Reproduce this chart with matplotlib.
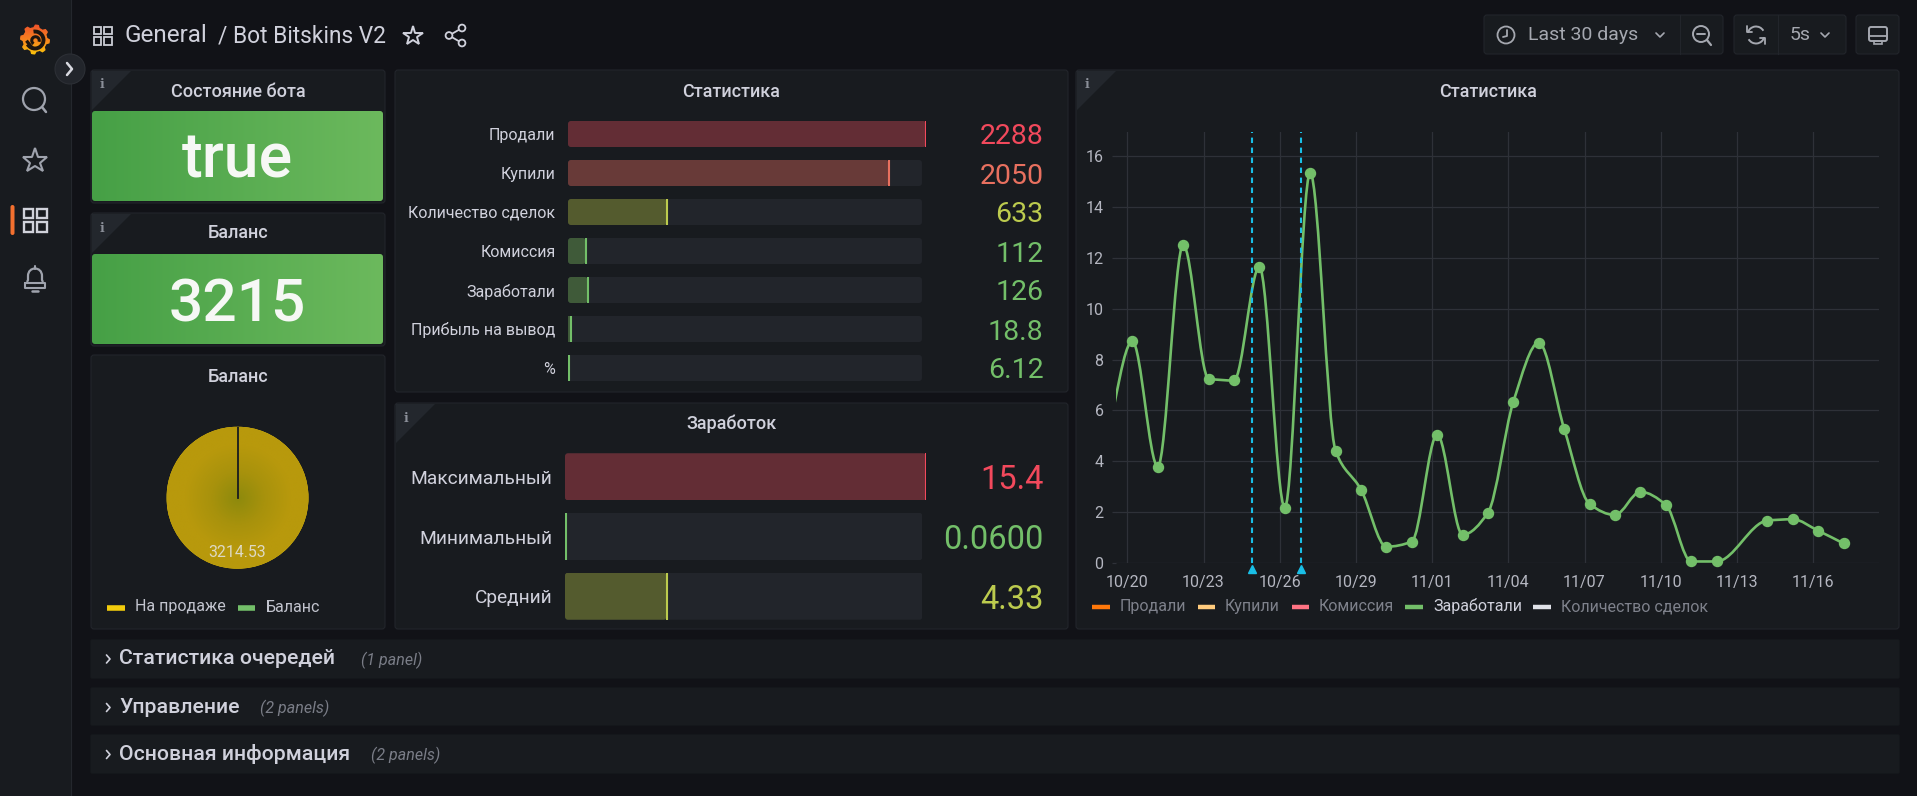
# -*- coding: utf-8 -*-
import numpy as np
import matplotlib
matplotlib.use('Agg')
import matplotlib.pyplot as plt
from matplotlib.patches import Rectangle, FancyBboxPatch, Circle, Polygon, PathPatch, Arc
from matplotlib.path import Path
from matplotlib.transforms import IdentityTransform

W, H = 1917, 796
plt.rcParams['font.family'] = ['Roboto', 'DejaVu Sans']

# data
stat_labels = ['Продали', 'Купили', 'Количество сделок', 'Комиссия', 'Заработали', 'Прибыль на вывод', '%']
stat_values = [2288, 2050, 633, 112, 126, 18.8, 6.12]
stat_text = ['2288', '2050', '633', '112', '126', '18.8', '6.12']
stat_colors = ['#f2495c', '#e8705f', '#bccb4e', '#73bf69', '#73bf69', '#73bf69', '#73bf69']
stat_fills = ['#632d35', '#683a38', '#545b2e', '#3f5a39', '#3f5a39', '#3f5a39', '#3f5a39']

earn_labels = ['Максимальный', 'Минимальный', 'Средний']
earn_values = [15.4, 0.06, 4.33]
earn_text = ['15.4', '0.0600', '4.33']
earn_colors = ['#f2495c', '#73bf69', '#bccb4e']
earn_fills = ['#632d35', '#3f5a39', '#545b2e']

pie_labels = ['На продаже', 'Баланс']
pie_values = [3214.53, 0.0]
pie_colors = ['#f2cc0c', '#73bf69']

# days after 10/20, there is no point for 11/13
days = [-0.8, 0.2, 1.2, 2.2, 3.2, 4.2, 5.2, 6.2, 7.2, 8.2, 9.2, 10.2, 11.2, 12.2, 13.2,
        14.2, 15.2, 16.2, 17.2, 18.2, 19.2, 20.2, 21.2, 22.2, 23.2, 25.2, 26.2, 27.2, 28.2]
earned = [4.9, 8.72, 3.79, 12.52, 7.25, 7.18, 11.65, 2.18, 15.35, 4.41, 2.89, 0.64, 0.84, 5.05, 1.11,
          1.98, 6.35, 8.67, 5.28, 2.32, 1.89, 2.80, 2.29, 0.06, 0.06, 1.67, 1.72, 1.27, 0.77]
annot_days = [4.91, 6.83]
x_ticks = [0, 3, 6, 9, 12, 15, 18, 21, 24, 27]
x_labels = ['10/20', '10/23', '10/26', '10/29', '11/01', '11/04', '11/07', '11/10', '11/13', '11/16']
y_ticks = [0, 2, 4, 6, 8, 10, 12, 14, 16]

ts_legend = ['Продали', 'Купили', 'Комиссия', 'Заработали', 'Количество сделок']
ts_legend_colors = ['#ff780a', '#ffcb7d', '#ff7383', '#73bf69', '#e0e2e8']

rows = ['Статистика очередей', 'Управление', 'Основная информация']
rows_sub = ['(1 panel)', '(2 panels)', '(2 panels)']

PAGE = '#111217'
PANEL = '#181b1f'
BORDER = '#22252b'
TRACK = '#22252b'
TEXT = '#d0d1dc'
DIM = '#7e818b'
ICON = '#9fa3ad'

fig = plt.figure(figsize=(W / 100, H / 100), dpi=100, facecolor=PAGE)

ui = fig.add_axes([0, 0, 1, 1], zorder=0)
ui.set_xlim(0, W)
ui.set_ylim(H, 0)
ui.axis('off')


def px_axes(x0, y0, x1, y1, z=2):
    ax = fig.add_axes([x0 / W, 1 - y1 / H, (x1 - x0) / W, (y1 - y0) / H], zorder=z)
    ax.set_facecolor('none')
    return ax


def rbox(x0, y0, x1, y1, fc=PANEL, ec=BORDER, r=3, lw=0.8):
    p = FancyBboxPatch((x0 + r, y0 + r), x1 - x0 - 2 * r, y1 - y0 - 2 * r,
                       boxstyle='round,pad=%d,rounding_size=%d' % (r, r), fc=fc, ec=ec, lw=lw)
    ui.add_patch(p)
    return p


def info_corner(x, y):
    ui.add_patch(Polygon([(x + 1, y + 1), (x + 40, y + 1), (x + 1, y + 40)], fc='#23272d', ec='none'))
    ui.text(x + 11, y + 15, 'i', color='#8b8f99', fontsize=9, fontweight='bold', family='DejaVu Serif',
            ha='center', va='center')


def line(xs, ys, c=ICON, lw=1.5):
    ui.plot(xs, ys, color=c, lw=lw, solid_capstyle='round', solid_joinstyle='round')


def grid_icon(cx, cy, s, gap, c, lw):
    for dx in (-1, 1):
        for dy in (-1, 1):
            x0 = cx + dx * (gap / 2 + s / 2) - s / 2
            y0 = cy + dy * (gap / 2 + s / 2) - s / 2
            ui.add_patch(Rectangle((x0, y0), s, s, fc='none', ec=c, lw=lw))


def title(x, y, s):
    ui.text(x, y + 1, s, color=TEXT, fontsize=13, fontweight='medium', ha='center', va='center')


# sidebar
ui.add_patch(Rectangle((0, 0), 71, H, fc=PANEL, ec='none'))
ui.plot([71, 71], [0, H], color='#24272d', lw=0.8)

# logo
t = np.linspace(0, 2 * np.pi, 49)[:-1]
rad = np.where(np.arange(48) % 6 < 3, 15, 12.4)
gear = np.c_[35 + rad * np.cos(t), 39.5 + rad * np.sin(t)]
grad = np.linspace(0, 1, 64)[:, None]
logo_cm = matplotlib.colors.LinearSegmentedColormap.from_list('logo', ['#ee4f2c', '#f6821f', '#fbca0a'])
im = ui.imshow(grad, cmap=logo_cm, extent=(18, 52, 56, 23), aspect='auto', zorder=2)
im.set_clip_path(Polygon(gear, transform=ui.transData))
ui.set_xlim(0, W)
ui.set_ylim(H, 0)
ui.add_patch(Arc((35, 40), 17, 17, theta1=260, theta2=150, ec='#1c1510', lw=2.8, zorder=3))
ui.add_patch(Arc((35.5, 40.5), 7.5, 7.5, theta1=120, theta2=20, ec='#1c1510', lw=2.2, zorder=3))
ui.plot([27.5, 31.5], [42, 47], color='#1c1510', lw=2.4, zorder=3)

# sidebar expand button
ui.add_patch(Circle((70, 69), 15, fc='#22252b', ec='#2c2f35', lw=0.8, zorder=3))
ui.plot([67, 72, 67], [63, 69, 75], color='#d8d9e0', lw=1.8, zorder=4, solid_capstyle='round')

# sidebar icons
ui.add_patch(Circle((34, 99), 11, fc='none', ec=ICON, lw=1.6))
line([42, 46], [107, 112], lw=1.8)
ui.plot([35], [161], marker='*', ms=18.5, mfc='none', mec=ICON, mew=1.5)
ui.add_patch(FancyBboxPatch((10.5, 205), 4, 30, boxstyle='round,pad=0,rounding_size=2', fc='#f3702f', ec='none'))
grid_icon(35, 220, 9.5, 4, '#d0d2da', 1.7)
bell = Path([(27, 282), (28, 280), (28, 276), (28, 266), (42, 266), (42, 276), (42, 280), (43, 282)],
            [1, 2, 2, 4, 4, 4, 2, 2])
ui.add_patch(PathPatch(bell, fc='none', ec=ICON, lw=1.6))
line([35, 35], [266, 269])
line([25, 45, 45, 25, 25], [283, 283, 288, 288, 283])
line([32, 38], [291, 291], lw=1.8)

# header
grid_icon(102.5, 35.5, 7.5, 3, '#ccced6', 1.3)
ui.text(124, 36, 'General', color=TEXT, fontsize=17.5, va='center', ha='left')
ui.text(218, 36, '/ Bot Bitskins V2', color=TEXT, fontsize=16.4, va='center', ha='left')
ui.plot([412.5], [35.5], marker='*', ms=14.5, mfc='none', mec=TEXT, mew=1.4)
for (cx, cy) in [(462, 28), (449, 35.5), (462, 43)]:
    ui.add_patch(Circle((cx, cy), 3.4, fc=PAGE, ec=TEXT, lw=1.3, zorder=3))
line([449, 462], [35.5, 28], TEXT, 1.3)
line([449, 462], [35.5, 43], TEXT, 1.3)

# top right buttons
rbox(1484, 15, 1723, 54, fc=PANEL, ec=BORDER)
rbox(1734, 15, 1846, 54, fc=PANEL, ec=BORDER)
rbox(1856, 15, 1899, 54, fc=PANEL, ec=BORDER)
ui.plot([1680, 1680], [15, 54], color=BORDER, lw=0.8)
ui.plot([1778, 1778], [15, 54], color=BORDER, lw=0.8)
ui.add_patch(Circle((1506, 35), 8.5, fc='none', ec='#a5a8b0', lw=1.3))
line([1507, 1507, 1503], [30, 36, 37], '#a5a8b0', 1.3)
ui.text(1528, 35, 'Last 30 days', color='#a5a8b0', fontsize=14, va='center', ha='left')
line([1656, 1660, 1664], [33, 37, 33], '#a5a8b0', 1.2)
ui.add_patch(Circle((1701, 34), 8, fc='none', ec='#a5a8b0', lw=1.4))
line([1697, 1705], [34, 34], '#a5a8b0', 1.4)
line([1707, 1711], [40, 45], '#a5a8b0', 1.6)
ui.add_patch(Arc((1756, 35), 17, 17, theta1=195, theta2=330, ec='#a5a8b0', lw=1.4))
ui.add_patch(Arc((1756, 35), 17, 17, theta1=15, theta2=150, ec='#a5a8b0', lw=1.4))
line([1747, 1747, 1752], [26, 32, 32], '#a5a8b0', 1.3)
line([1765, 1765, 1760], [44, 38, 38], '#a5a8b0', 1.3)
ui.text(1790, 35, '5s', color='#a5a8b0', fontsize=14, va='center', ha='left')
line([1821, 1825, 1829], [33, 37, 33], '#a5a8b0', 1.2)
ui.add_patch(FancyBboxPatch((1869, 27), 18, 14, boxstyle='round,pad=0,rounding_size=2', fc='none', ec='#a5a8b0', lw=1.4))
line([1869, 1887], [36, 36], '#a5a8b0', 1.3)
ui.add_patch(Rectangle((1874, 41), 8, 3, fc='none', ec='#a5a8b0', lw=1.2))

# panels
rbox(91, 70, 385, 203)
rbox(91, 213, 385, 346)
rbox(91, 355, 385, 629)
rbox(395, 70, 1068, 392)
rbox(395, 403, 1068, 629)
rbox(1076, 70, 1899, 629)
info_corner(91, 70)
info_corner(91, 213)
info_corner(395, 403)
info_corner(1076, 70)
title(238, 91, 'Состояние бота')
title(238, 232, 'Баланс')
title(238, 376, 'Баланс')
title(731.5, 91, 'Статистика')
title(731.5, 423, 'Заработок')
title(1488, 91, 'Статистика')

# green stat boxes
green_cm = matplotlib.colors.LinearSegmentedColormap.from_list('g', ['#46a046', '#6cb95d'])
for (y0, y1, s, fs, ty) in [(111, 201, 'true', 45, 0.52), (254, 344, '3215', 43.5, 0.5)]:
    ax = px_axes(92, y0, 383, y1)
    ax.axis('off')
    g = ax.imshow(np.linspace(0, 1, 128)[None, :], cmap=green_cm, aspect='auto', extent=(0, 291, 0, 90))
    box = FancyBboxPatch((3, 3), 285, 84, boxstyle='round,pad=3,rounding_size=3', transform=ax.transData,
                         fc='none', ec='none')
    ax.add_patch(box)
    g.set_clip_path(box)
    ax.text(0.5, ty, s, color='#f6f8f5', fontsize=fs, fontweight='medium', ha='center', va='center_baseline',
            transform=ax.transAxes)

# pie
pie_ax = px_axes(166.5, 426.7, 308.5, 568.7)
wedges, _ = pie_ax.pie(pie_values, colors=pie_colors, startangle=90, counterclock=False, radius=1.0)
pie_ax.set_xlim(-1, 1)
pie_ax.set_ylim(-1, 1)
yy, xx = np.mgrid[-1:1:200j, -1:1:200j]
rr = np.clip(np.hypot(xx, yy) / 0.75, 0, 1)
pie_cm = matplotlib.colors.LinearSegmentedColormap.from_list('p', ['#8e8a0c', '#a8920c', '#b8990c'])
pim = pie_ax.imshow(rr, cmap=pie_cm, extent=(-1, 1, -1, 1), aspect='auto', zorder=3)
pim.set_clip_path(Circle((0, 0), 1, transform=pie_ax.transData))
pie_ax.plot([0, 0], [0, 1], color=PANEL, lw=1.3, zorder=4)
pie_ax.text(0, -0.77, '%.2f' % pie_values[0], color='#ddd9c4', fontsize=11.4, ha='center', va='center', zorder=5)

for (x0, x1, tx, c, s) in [(107, 125, 135, pie_colors[0], pie_labels[0]), (238, 255, 266, pie_colors[1], pie_labels[1])]:
    ui.plot([x0, x1], [607.5, 607.5], color=c, lw=4, solid_capstyle='butt')
    ui.text(tx, 607, s, color='#c2c4ce', fontsize=11.5, va='center', ha='left')


def round_bars(ax, bars, r=3):
    # grafana bars have small round corners
    for p in bars:
        (x0, y0), (x1, y1) = ax.transData.transform(p.get_bbox().get_points())
        x0, x1 = min(x0, x1), max(x0, x1)
        y0, y1 = min(y0, y1), max(y0, y1)
        if x1 - x0 <= 2 * r:
            continue
        box = FancyBboxPatch((x0 + r, y0 + r), x1 - x0 - 2 * r, y1 - y0 - 2 * r,
                             boxstyle='round,pad=%d,rounding_size=%d' % (r, r), transform=IdentityTransform())
        p.set_clip_path(box)


def bar_gauge(box, vmax, track_end, labels, values, texts, colors, fills, label_fs, value_fs, value_x, bh):
    ax = px_axes(*box)
    n = len(values)
    ys = np.arange(n)
    ax.set_xlim(0, vmax)
    ax.set_ylim(n - 0.5, -0.5)
    round_bars(ax, ax.barh(ys, [track_end] * n, height=bh, color=TRACK))
    round_bars(ax, ax.barh(ys, values, height=bh, color=fills))
    ax.vlines(values, ys - bh / 2, ys + bh / 2, colors=colors, lw=1.5)
    ax.set_yticks(ys, labels)
    ax.tick_params(axis='y', length=0, pad=9, labelcolor=TEXT, labelsize=label_fs)
    ax.set_xticks([])
    for sp in ax.spines.values():
        sp.set_visible(False)
    for i in range(n):
        ax.text(value_x, i, texts[i], color=colors[i], fontsize=value_fs, ha='right', va='center_baseline',
                transform=ax.get_yaxis_transform(), clip_on=False)
    return ax


bar_gauge((568, 114.5, 926, 387.5), 2288, 2262, stat_labels, stat_values, stat_text,
          stat_colors, stat_fills, 11.5, 20.5, (1043.5 - 568) / 358.0, 0.667)
bar_gauge((565, 447, 926, 626), 15.4, 15.25, earn_labels, earn_values, earn_text,
          earn_colors, earn_fills, 13.8, 23.5, (1043.5 - 565) / 361.0, 0.79)

# time series, monotone spline through the points like the original panel
ts = px_axes(1116, 131.5, 1879, 563)
ts.set_xlim((1116 - 1127.3) / 25.4, (1879 - 1127.3) / 25.4)
ts.set_ylim(0, 431.5 / 25.42)
ts.set_xticks(x_ticks, x_labels)
ts.set_yticks(y_ticks)
ts.grid(True, color='#2e3138', lw=0.9)
ts.set_axisbelow(True)
ts.tick_params(axis='x', length=0, pad=9, labelcolor='#b4b6c0', labelsize=11.5)
ts.tick_params(axis='y', length=3, width=0.9, color='#2e3138', pad=6, labelcolor='#b4b6c0', labelsize=11.5)
for sp in ts.spines.values():
    sp.set_visible(False)

xv = np.array(days)
yv = np.array(earned)
h = np.diff(xv)
d = np.diff(yv) / h
m = np.zeros(len(xv))
m[0] = d[0]
m[-1] = d[-1]
for i in range(1, len(xv) - 1):
    if d[i - 1] * d[i] > 0:
        w1 = 2 * h[i] + h[i - 1]
        w2 = h[i] + 2 * h[i - 1]
        m[i] = (w1 + w2) / (w1 / d[i - 1] + w2 / d[i])
verts = [(xv[0], yv[0])]
codes = [Path.MOVETO]
for i in range(len(h)):
    verts += [(xv[i] + h[i] / 3, yv[i] + m[i] * h[i] / 3),
              (xv[i + 1] - h[i] / 3, yv[i + 1] - m[i + 1] * h[i] / 3),
              (xv[i + 1], yv[i + 1])]
    codes += [Path.CURVE4] * 3
ts.add_patch(PathPatch(Path(verts, codes), fc='none', ec='#73bf69', lw=1.9, zorder=3))
ts.plot(days, earned, ls='none', marker='o', ms=7.2, color='#73bf69', markevery=(1, 1), clip_on=False, zorder=4)
ts.vlines(annot_days, 0, 431.5 / 25.42, colors='#19bfe6', lw=1.5, linestyles=(0, (2.6, 2.2)), zorder=5)
ts.plot(annot_days, [-0.24, -0.24], ls='none', marker='^', ms=6, color='#19bfe6', clip_on=False, zorder=5)

for (x0, x1, tx, c, s) in zip([1092, 1198, 1292, 1405, 1533], [1110, 1215, 1309, 1423, 1551],
                              [1120, 1225, 1319, 1433, 1561], ts_legend_colors, ts_legend):
    ui.plot([x0, x1], [606.5, 606.5], color=c, lw=3.2, solid_capstyle='butt')
    ui.text(tx, 606.5, s, color=TEXT if s == 'Заработали' else DIM, fontsize=11.5, va='center', ha='left')

# collapsed rows
for (y0, y1, yc, s, sub, subx) in zip([640, 688, 735], [678, 725, 773], [659, 707.5, 754.5], rows, rows_sub, [361, 260, 371]):
    rbox(91, y0, 1899, y1, fc=PANEL, ec=PANEL, r=1)
    line([106.5, 110, 106.5], [yc - 4, yc, yc + 4], TEXT, 1.2)
    ui.text(119, yc, s, color=TEXT, fontsize=15.3, fontweight='medium', va='center', ha='left')
    ui.text(subx, yc + 1, sub, color='#7a7d87', fontsize=11.5, style='italic', va='center', ha='left')

fig.savefig('out.png', dpi=100, facecolor=PAGE)
